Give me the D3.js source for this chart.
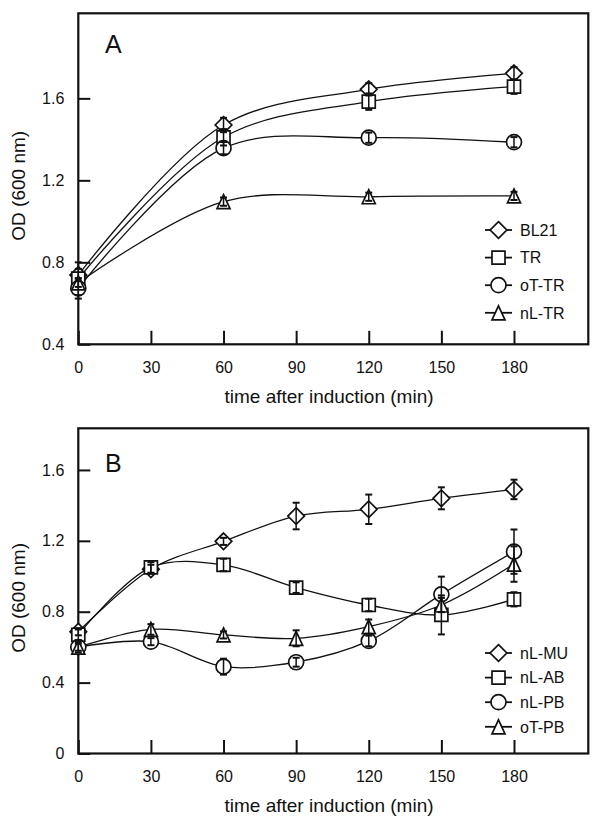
<!DOCTYPE html>
<html>
<head>
<meta charset="utf-8">
<script src="https://cdn.jsdelivr.net/npm/d3@7"></script>
<style>
  html, body { margin: 0; padding: 0; background: #fff; }
  svg { display: block; }
  text { font-family: "Liberation Sans", Arial, sans-serif; fill: #111; }
</style>
</head>
<body>
<svg id="chart" width="600" height="819"></svg>
<script>
// ---------- data ----------
const timesA = [0, 60, 120, 180];
const seriesNamesA = ["BL21", "TR", "oT-TR", "nL-TR"];
const bl21 = [0.738, 1.47, 1.644, 1.722];
const bl21Err = [0.03, 0.035, 0.03, 0.03];
const tr = [0.72, 1.41, 1.584, 1.657];
const trErr = [0.08, 0.04, 0.04, 0.035];
const otTr = [0.673, 1.357, 1.408, 1.386];
const otTrErr = [0.05, 0.03, 0.025, 0.025];
const nlTr = [0.70, 1.096, 1.12, 1.124];
const nlTrErr = [0.02, 0.02, 0.02, 0.02];

const timesB = [0, 30, 60, 90, 120, 150, 180];
const seriesNamesB = ["nL-MU", "nL-AB", "nL-PB", "oT-PB"];
const nlMu = [0.687, 1.04, 1.197, 1.34, 1.378, 1.44, 1.49];
const nlMuErr = [0.02, 0.025, 0.02, 0.075, 0.083, 0.062, 0.055];
const nlAb = [0.67, 1.05, 1.064, 0.936, 0.838, 0.782, 0.87];
const nlAbErr = [0.03, 0.03, 0.035, 0.03, 0.035, 0.11, 0.04];
const nlPb = [0.60, 0.631, 0.49, 0.515, 0.635, 0.898, 1.139];
const nlPbErr = [0.03, 0.02, 0.045, 0.025, 0.03, 0.1, 0.125];
const otPb = [0.60, 0.70, 0.669, 0.65, 0.716, 0.838, 1.069];
const otPbErr = [0.02, 0.03, 0.02, 0.045, 0.04, 0.04, 0.1];

const xTicks = [0, 30, 60, 90, 120, 150, 180];
const yTicksA = [0.4, 0.8, 1.2, 1.6];
const yTicksB = [0, 0.4, 0.8, 1.2, 1.6];
const markerTypes = ["diamond", "square", "circle", "triangle"];
const xTitle = "time after induction (min)";
const yTitle = "OD (600 nm)";

// ---------- symbols ----------
const shapes = {
  diamond: { draw(c, r) { c.moveTo(0, -r); c.lineTo(r, 0); c.lineTo(0, r); c.lineTo(-r, 0); c.closePath(); } },
  square: { draw(c, r) { c.rect(-r, -r, 2 * r, 2 * r); } },
  circle: { draw(c, r) { c.moveTo(r, 0); c.arc(0, 0, r, 0, 2 * Math.PI); } },
  triangle: { draw(c, r) { c.moveTo(0, -r); c.lineTo(r * 0.93, r); c.lineTo(-r * 0.93, r); c.closePath(); } }
};
const shapeSize = { diamond: 8.3, square: 6.5, circle: 7.5, triangle: 7 };
const symbolPath = t => d3.symbol().type(shapes[t]).size(shapeSize[t])();

const svg = d3.select("#chart");
svg.append("rect").attr("width", 600).attr("height", 819).attr("fill", "#fff");

function panel(cfg) {
  const x = d3.scaleLinear().domain([0, 210.7]).range([78.3, 588.3]);
  const y = d3.scaleLinear().domain(cfg.yDomain).range(cfg.yRange);
  const g = svg.append("g");
  const [x0, x1] = x.range();
  const [yb, yt] = y.range();

  // axes
  const xa = g.append("g").attr("transform", `translate(0,${yb})`)
    .call(d3.axisBottom(x).tickValues(xTicks).tickFormat(d3.format("d"))
      .tickSizeInner(-13.5).tickSizeOuter(0).tickPadding(17));
  const ya = g.append("g").attr("transform", `translate(${x0},0)`)
    .call(d3.axisLeft(y).tickValues(cfg.yTicks).tickFormat(d => d === 0 ? "0" : d3.format(".1f")(d))
      .tickSizeInner(-12).tickSizeOuter(0).tickPadding(14));
  [xa, ya].forEach(a => {
    a.select(".domain").remove();
    a.selectAll(".tick line").attr("stroke", "#111").attr("stroke-width", 2);
    a.selectAll(".tick text").attr("font-size", 16).attr("fill", "#111")
      .attr("font-family", '"Liberation Sans", Arial, sans-serif');
  });

  // frame
  g.append("rect").attr("x", x0).attr("y", yt).attr("width", x1 - x0).attr("height", yb - yt)
    .attr("fill", "none").attr("stroke", "#111").attr("stroke-width", 2.2);

  // titles
  g.append("text").attr("x", 329).attr("y", cfg.xTitleY).attr("text-anchor", "middle")
    .attr("font-size", 19).text(xTitle);
  g.append("text").attr("transform", `translate(25,${(yb + yt) / 2 + 7}) rotate(-90)`)
    .attr("text-anchor", "middle").attr("font-size", 19).text(yTitle);
  g.append("text").attr("x", 105).attr("y", cfg.labelY).attr("font-size", 25).text(cfg.label);

  // lines
  const line = d3.line().x(d => x(d.t)).y(d => y(d.v)).curve(d3.curveCatmullRom.alpha(0.5));
  cfg.series.forEach(s => {
    const pts = cfg.times.map((t, i) => ({ t, v: s.values[i], e: s.errors[i] }));
    s.pts = pts;
    g.append("path").attr("d", line(pts)).attr("fill", "none").attr("stroke", "#111").attr("stroke-width", 1.3);
  });
  // markers
  cfg.series.forEach(s => {
    g.append("g").selectAll("path").data(s.pts).join("path")
      .attr("transform", d => `translate(${x(d.t)},${y(d.v)})`)
      .attr("d", symbolPath(s.type))
      .attr("fill", "#fff").attr("stroke", "#111").attr("stroke-width", 1.7);
  });
  // error bars
  cfg.series.forEach(s => {
    const eg = g.append("g").attr("stroke", "#111").attr("stroke-width", 1.5);
    s.pts.forEach(d => {
      const cx = x(d.t), ylo = y(d.v - d.e), yhi = y(d.v + d.e);
      eg.append("line").attr("x1", cx).attr("x2", cx).attr("y1", ylo).attr("y2", yhi);
      eg.append("line").attr("x1", cx - 3.5).attr("x2", cx + 3.5).attr("y1", ylo).attr("y2", ylo).attr("stroke-width", 2);
      eg.append("line").attr("x1", cx - 3.5).attr("x2", cx + 3.5).attr("y1", yhi).attr("y2", yhi).attr("stroke-width", 2);
    });
  });

  // legend
  const lg = g.append("g");
  cfg.series.forEach((s, i) => {
    const ly = cfg.legendY + i * cfg.legendStep;
    lg.append("line").attr("x1", 485).attr("x2", 512).attr("y1", ly).attr("y2", ly)
      .attr("stroke", "#111").attr("stroke-width", 1.8);
    lg.append("path").attr("transform", `translate(498.5,${ly})`).attr("d", symbolPath(s.type))
      .attr("fill", "#fff").attr("stroke", "#111").attr("stroke-width", 1.7);
    lg.append("text").attr("x", 520).attr("y", ly).attr("dy", "0.36em").attr("font-size", 16).text(s.name);
  });
}

panel({
  label: "A", labelY: 53,
  yDomain: [0.4, 2.015], yRange: [344.3, 13.3], yTicks: yTicksA,
  xTitleY: 403,
  times: timesA,
  legendY: 230, legendStep: 27.6,
  series: [
    { name: seriesNamesA[0], type: markerTypes[0], values: bl21, errors: bl21Err },
    { name: seriesNamesA[1], type: markerTypes[1], values: tr, errors: trErr },
    { name: seriesNamesA[2], type: markerTypes[2], values: otTr, errors: otTrErr },
    { name: seriesNamesA[3], type: markerTypes[3], values: nlTr, errors: nlTrErr }
  ]
});

panel({
  label: "B", labelY: 471.5,
  yDomain: [0, 1.835], yRange: [753.5, 428.3], yTicks: yTicksB,
  xTitleY: 812,
  times: timesB,
  legendY: 653, legendStep: 24.6,
  series: [
    { name: seriesNamesB[0], type: markerTypes[0], values: nlMu, errors: nlMuErr },
    { name: seriesNamesB[1], type: markerTypes[1], values: nlAb, errors: nlAbErr },
    { name: seriesNamesB[2], type: markerTypes[2], values: nlPb, errors: nlPbErr },
    { name: seriesNamesB[3], type: markerTypes[3], values: otPb, errors: otPbErr }
  ]
});
</script>
</body>
</html>
